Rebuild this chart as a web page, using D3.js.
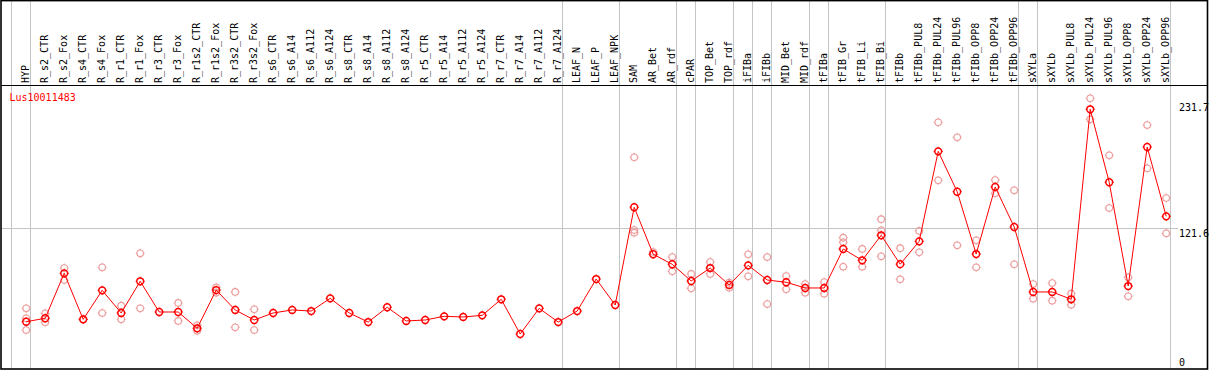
<!DOCTYPE html>
<html><head><meta charset="utf-8">
<script src="https://cdn.jsdelivr.net/npm/d3@7"></script>
<style>
html,body{margin:0;padding:0;background:#fff;}
svg{display:block;}
text{font-family:"DejaVu Sans Mono",monospace;font-size:10px;}
</style></head>
<body>
<svg id="chart" width="1209" height="370"></svg>
<script>
const geneName = "Lus10011483";
const categories = ["HYP","R_s2_CTR","R_s2_Fox","R_s4_CTR","R_s4_Fox","R_r1_CTR","R_r1_Fox","R_r3_CTR","R_r3_Fox","R_r1s2_CTR","R_r1s2_Fox","R_r3s2_CTR","R_r3s2_Fox","R_s6_CTR","R_s6_A14","R_s6_A112","R_s6_A124","R_s8_CTR","R_s8_A14","R_s8_A112","R_s8_A124","R_r5_CTR","R_r5_A14","R_r5_A112","R_r5_A124","R_r7_CTR","R_r7_A14","R_r7_A112","R_r7_A124","LEAF_N","LEAF_P","LEAF_NPK","SAM","AR_Bet","AR_rdf","cPAR","TOP_Bet","TOP_rdf","iFIBa","iFIBb","MID_Bet","MID_rdf","tFIBa","tFIB_Gr","tFIB_Li","tFIB_Bi","tFIBb","tFIBb_PUL8","tFIBb_PUL24","tFIBb_PUL96","tFIBb_OPP8","tFIBb_OPP24","tFIBb_OPP96","sXYLa","sXYLb","sXYLb_PUL8","sXYLb_PUL24","sXYLb_PUL96","sXYLb_OPP8","sXYLb_OPP24","sXYLb_OPP96"];
const means = [34.6,37.8,79.5,36.8,63.7,42.7,72.1,43.6,43.6,28.5,64.0,45.5,36.2,42.7,45.5,44.5,56.3,42.7,34.3,48.0,35.3,36.2,39.6,39.0,40.5,55.4,23.2,47.0,34.3,44.5,74.2,50.1,140.8,97.2,87.9,72.4,84.4,68.7,86.9,73.3,71.2,65.9,65.9,102.1,91.6,114.8,88.0,109.2,192.7,155.2,97.4,159.6,122.5,62.2,62.2,55.4,231.7,164.0,67.7,196.7,132.4];
const replicates = [[47.0,37.8,26.9],[42.4,34.1],[84.4,73.3],[36.8],[85.1,42.7],[49.5,36.8],[98.1,47.0],[],[52.0,35.3],[31.3,26.3],[66.5,61.5],[62.2,29.4],[46.1,26.9],[],[],[],[],[],[],[],[],[],[],[],[],[],[],[],[],[],[],[],[187.2,119.7,117.2],[99.3],[94.6,81.4],[78.9,65.6],[90.0,78.9],[70.8,66.2],[97.2,76.7],[94.6,51.0],[77.0,64.7],[69.6,61.5],[71.4,60.6],[112.6,108.3,85.6],[102.1,85.6],[129.7,119.4,95.3],[102.8,74.0],[118.8,99.0],[219.6,165.8],[205.7,105.5],[110.1,85.1],[166.1,153.8],[156.5,87.9],[69.6,56.0],[70.5,54.1],[60.6,50.4],[241.9,222.4],[189.0,140.1],[75.8,58.2],[217.1,177.0],[149.4,116.6]];
const groupStarts = [0,1,29,32,35,36,38,39,40,42,43,46,53,54,61];
const axisTicks = [231.7,121.6,0];
const gridTicks = [121.6];

const svg = d3.select("#chart");
const x = d3.scaleLinear().domain([0, categories.length]).range([11, 1170]);
const y = d3.scaleLinear().domain([0, 231.7]).range([359, 109.3]);
const px = i => x(i + 0.8);

// group separators
svg.append("g").selectAll("line").data(groupStarts).join("line")
  .attr("x1", d => Math.round(x(d)) + 0.5).attr("x2", d => Math.round(x(d)) + 0.5)
  .attr("y1", 0).attr("y2", 369).attr("stroke", "#c4c4c4").attr("stroke-width", 1);

// gridline
svg.append("g").selectAll("line").data(gridTicks).join("line")
  .attr("x1", 2).attr("x2", 1178)
  .attr("y1", d => Math.round(y(d)) + 0.5).attr("y2", d => Math.round(y(d)) + 0.5)
  .attr("stroke", "#c4c4c4").attr("stroke-width", 1);

// header divider
svg.append("line").attr("x1", 1).attr("x2", 1208).attr("y1", 85.5).attr("y2", 85.5)
  .attr("stroke", "#000").attr("stroke-width", 1.2);

// category labels
svg.append("g").selectAll("text").data(categories).join("text")
  .attr("transform", (d, i) => `translate(${x(i) + 17.6},83) rotate(-90)`)
  .attr("fill", "#000").text(d => d);

// gene name
svg.append("text").attr("x", 9.5).attr("y", 101).attr("fill", "#ff0000").text(geneName);

// right axis labels
const dyMap = v => v === 0 ? 6.5 : (v === 231.7 ? 1.7 : 8.7);
svg.append("g").selectAll("text").data(axisTicks).join("text")
  .attr("x", 1179).attr("y", d => y(d) + dyMap(d)).attr("fill", "#000").text(d => d);

function marker(g, cx, cy, color, r, sw) {
  g.append("circle").attr("cx", cx).attr("cy", cy).attr("r", r)
    .attr("fill", "none").attr("stroke", color).attr("stroke-width", sw);
  const t = r + 1.2;
  g.append("path")
    .attr("d", `M${cx},${cy - t}V${cy - r + 0.3}M${cx},${cy + r - 0.3}V${cy + t}M${cx - t},${cy}H${cx - r + 0.3}M${cx + r - 0.3},${cy}H${cx + t}`)
    .attr("stroke", color).attr("stroke-width", 1);
}

// replicates
const gRep = svg.append("g");
replicates.forEach((arr, i) => arr.forEach(v => marker(gRep, px(i), y(v), "#ec9c9c", 3.3, 1.1)));

// mean line
svg.append("path").datum(means)
  .attr("d", d3.line().x((d, i) => px(i)).y(d => y(d)))
  .attr("fill", "none").attr("stroke", "#ff0000").attr("stroke-width", 1);

// means
const gMean = svg.append("g");
means.forEach((v, i) => marker(gMean, px(i), y(v), "#ff0000", 3.4, 1.5));

// outer border
svg.append("rect").attr("x", 1).attr("y", 0.6).attr("width", 1206.5).attr("height", 368.4)
  .attr("fill", "none").attr("stroke", "#000").attr("stroke-width", 1.6);
</script>
</body></html>
